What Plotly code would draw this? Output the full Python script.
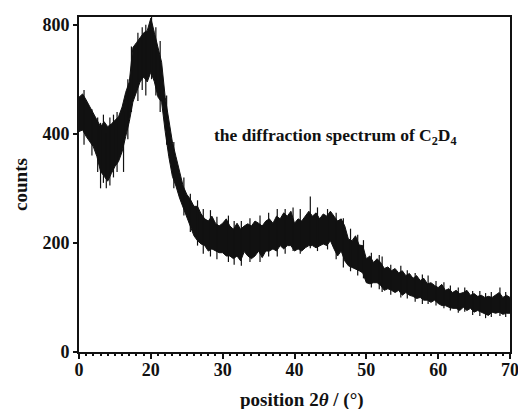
import plotly.graph_objects as go

# position on the (linear) plotting axis; left edge is labelled "0"
two_theta = [10, 10.5, 11, 11.5, 12, 12.5, 13, 13.5, 14, 14.5, 15, 15.5, 16, 16.5, 17, 17.5,
             18, 18.5, 19, 19.5, 20, 20.5, 21, 21.5, 22, 22.5, 23, 23.5, 24, 24.5, 25, 25.5,
             26, 26.5, 27, 27.5, 28, 28.5, 29, 29.5, 30, 30.5, 31, 31.5, 32, 32.5, 33, 33.5,
             34, 34.5, 35, 35.5, 36, 36.5, 37, 37.5, 38, 38.5, 39, 39.5, 40, 40.5, 41, 41.5,
             42, 42.5, 43, 43.5, 44, 44.5, 45, 45.5, 46, 46.5, 47, 47.5, 48, 48.5, 49, 49.5,
             50, 50.5, 51, 51.5, 52, 52.5, 53, 53.5, 54, 54.5, 55, 55.5, 56, 56.5, 57, 57.5,
             58, 58.5, 59, 59.5, 60, 60.5, 61, 61.5, 62, 62.5, 63, 63.5, 64, 64.5, 65, 65.5,
             66, 66.5, 67, 67.5, 68, 68.5, 69, 69.5, 70]
counts_high = [467, 473, 462, 449, 436, 425, 413, 422, 413, 418, 425, 431, 449, 476, 495, 558,
               567, 576, 585, 589, 612, 585, 558, 531, 467, 422, 385, 358, 331, 304, 289, 280,
               267, 267, 253, 244, 240, 249, 236, 231, 236, 244, 231, 225, 236, 225, 231, 235,
               231, 240, 236, 231, 240, 244, 236, 249, 244, 255, 249, 258, 236, 244, 240, 249,
               258, 249, 255, 244, 253, 249, 258, 249, 240, 244, 231, 207, 204, 213, 196, 195,
               171, 176, 164, 171, 164, 153, 156, 149, 153, 145, 149, 140, 144, 135, 140, 131,
               135, 125, 127, 122, 118, 124, 113, 116, 109, 113, 107, 109, 113, 104, 107, 102,
               104, 100, 102, 100, 104, 109, 100, 104, 100]
counts_low = [404, 407, 395, 385, 376, 358, 331, 322, 313, 327, 340, 349, 367, 395, 422, 458,
              476, 495, 504, 495, 513, 495, 467, 458, 404, 358, 322, 304, 282, 264, 249, 231,
              213, 204, 198, 195, 185, 189, 185, 182, 182, 176, 176, 171, 176, 167, 184, 176,
              171, 176, 185, 173, 185, 185, 189, 185, 195, 189, 195, 195, 185, 189, 185, 191,
              195, 195, 191, 195, 198, 195, 204, 189, 176, 185, 167, 158, 155, 153, 149, 145,
              127, 125, 127, 127, 122, 113, 116, 113, 109, 113, 104, 109, 104, 102, 98, 100,
              95, 95, 91, 95, 89, 85, 85, 82, 80, 80, 76, 82, 76, 80, 73, 76,
              73, 71, 67, 73, 71, 73, 69, 71, 71]

# isolated noise spikes
spike_x = [10.7, 11.8, 12.6, 13.0, 13.4, 13.8, 14.3, 14.8, 15.3, 16.2, 16.8, 17.3, 18.2,
           18.8, 19.3, 20.1, 20.7, 21.3, 22.2, 23.2, 24.6, 25.5, 26.5, 27.3, 28.3, 29.2,
           30.8, 31.6, 32.6, 33.8, 35.2, 36.4, 37.6, 38.7, 39.8, 40.8, 42.2, 43.2, 44.6,
           45.8, 46.8, 47.8, 48.8, 49.6, 50.7, 51.8, 52.2, 53.4, 54.8, 55.7, 56.8, 57.8,
           58.6, 59.7, 60.8, 61.7, 62.8, 63.7, 64.8, 65.8, 66.6, 67.4, 68.6, 69.4]
spike_low = [380, 360, 330, 300, 310, 300, 305, 320, 330, 330, 390, 440, 460,
             480, 470, 500, 470, 440, 380, 300, 250, 220, 195, 180, 175, 170,
             165, 160, 158, 165, 165, 175, 175, 180, 185, 180, 190, 185, 188,
             170, 155, 148, 140, 135, 118, 115, 110, 105, 100, 98, 92, 88,
             88, 85, 80, 76, 72, 74, 68, 66, 62, 64, 66, 64]
spike_high = [480, 445, 430, 420, 435, 400, 430, 435, 440, 440, 500, 560, 585,
              595, 600, 614, 595, 570, 470, 385, 320, 290, 278, 262, 260, 248,
              250, 240, 240, 245, 250, 255, 262, 262, 265, 262, 285, 265, 262,
              255, 245, 226, 215, 205, 182, 178, 175, 160, 158, 150, 145, 142,
              140, 130, 128, 122, 118, 118, 112, 112, 108, 110, 118, 110]

x_tickvals = [10, 20, 30, 40, 50, 60, 70]
x_ticktext = ["0", "20", "30", "40", "50", "60", "70"]
y_tickvals = [0, 200, 400, 600]
y_ticktext = ["0", "200", "400", "800"]

FONT = "Liberation Serif"
INK = "#111111"

fig = go.Figure()
fig.add_trace(go.Scatter(x=two_theta, y=counts_low, mode="lines",
                         line=dict(color=INK, width=1), showlegend=False, hoverinfo="skip"))
fig.add_trace(go.Scatter(x=two_theta, y=counts_high, mode="lines", fill="tonexty",
                         fillcolor=INK, line=dict(color=INK, width=1),
                         showlegend=False))

sx, sy = [], []
for xv, lo, hi in zip(spike_x, spike_low, spike_high):
    sx += [xv, xv, None]
    sy += [lo, hi, None]
fig.add_trace(go.Scatter(x=sx, y=sy, mode="lines", line=dict(color=INK, width=1.2),
                         showlegend=False, hoverinfo="skip"))

fig.add_annotation(x=28.5, y=395, xref="x", yref="y", xanchor="left", yanchor="middle",
                   text="the diffraction spectrum of C<sub>2</sub>D<sub>4</sub>",
                   showarrow=False, font=dict(family=FONT, size=17.5, color=INK, weight="bold"))

# x-axis title (sits slightly right of the plot centre in the original)
fig.add_annotation(x=41, y=0, xref="x", yref="paper", xanchor="center", yanchor="top",
                   yshift=-35, text="position 2<i>θ</i> / (°)", showarrow=False,
                   font=dict(family=FONT, size=19, color=INK, weight="bold"))

fig.update_layout(
    width=518, height=401,
    margin=dict(l=71, r=13, t=7, b=57),
    paper_bgcolor="white", plot_bgcolor="white",
    font=dict(family=FONT, size=18, color=INK),
    xaxis=dict(range=[10, 70], tickvals=x_tickvals, ticktext=x_ticktext,
               showgrid=False, zeroline=False, showline=True, linecolor=INK, linewidth=2,
               mirror=True, ticks="outside", ticklen=5, tickwidth=1.5, tickcolor=INK,
               minor=dict(dtick=1, ticks="outside", ticklen=2, tickcolor=INK),
               ticklabelstandoff=-5,
               tickfont=dict(family=FONT, size=18, weight="bold")),
    yaxis=dict(range=[0, 614], tickvals=y_tickvals, ticktext=y_ticktext,
               showgrid=False, zeroline=False, showline=True, linecolor=INK, linewidth=2,
               mirror=True, ticks="outside", ticklen=4, tickwidth=1.5, tickcolor=INK,
               tickfont=dict(family=FONT, size=18, weight="bold"),
               title=dict(text="counts", standoff=10,
                          font=dict(family=FONT, size=19, weight="bold"))),
)

fig.write_html("out.html")
